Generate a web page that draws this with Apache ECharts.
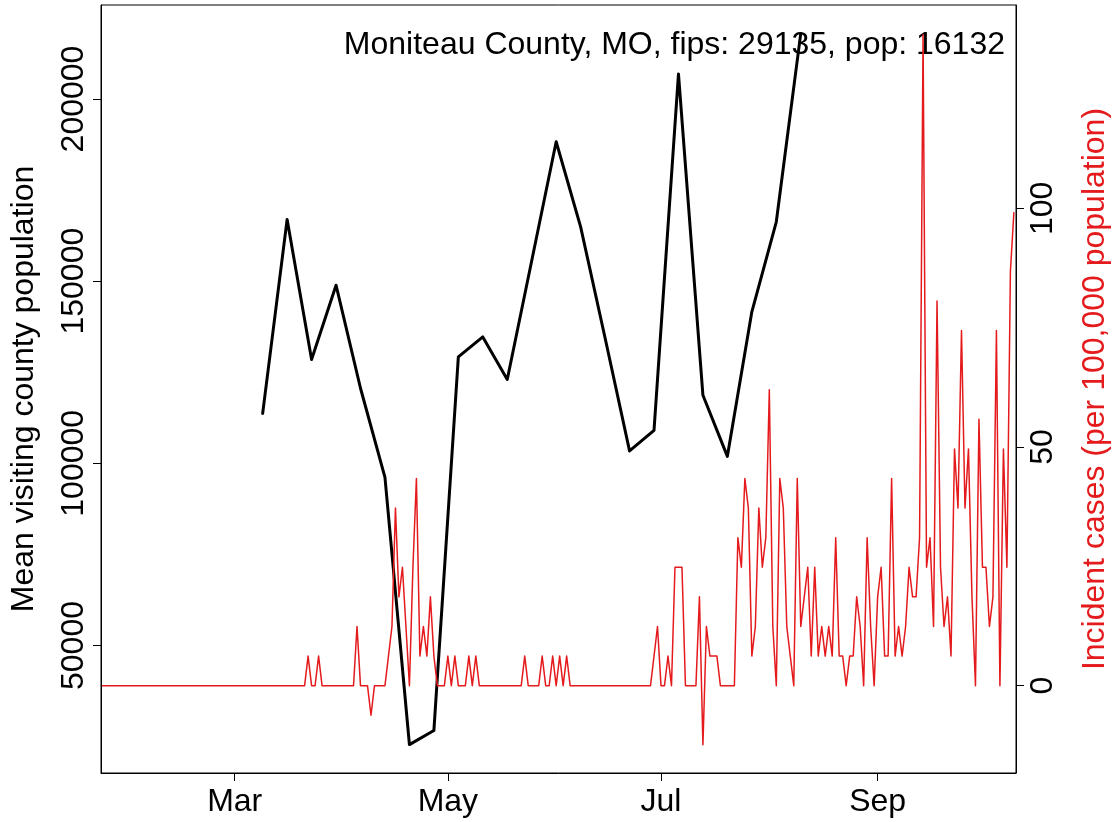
<!DOCTYPE html>
<html><head><meta charset="utf-8">
<script src="https://cdn.jsdelivr.net/npm/echarts@6/dist/echarts.min.js"></script>
<style>html,body{margin:0;padding:0;background:#fff}#c{width:1119px;height:822px}</style>
</head><body><div id="c"></div>
<script>
const chartTitle = 'Moniteau County, MO, fips: 29135, pop: 16132';
const leftAxisName = 'Mean visiting county population';
const rightAxisName = 'Incident cases (per 100,000 population)';

// weekly mean visiting county population (black)
const visitDates = ['2020-03-09','2020-03-16','2020-03-23','2020-03-30','2020-04-06','2020-04-13','2020-04-20','2020-04-27',
  '2020-05-04','2020-05-11','2020-05-18','2020-05-25','2020-06-01','2020-06-08','2020-06-15','2020-06-22','2020-06-29',
  '2020-07-06','2020-07-13','2020-07-20','2020-07-27','2020-08-03','2020-08-10'];
const visitValues = [113700,166950,128500,148900,120600,96150,22800,26650,
  129200,134700,123000,155600,188270,164900,134400,103400,109070,
  206870,118680,101920,141570,166300,218000];

// daily incident cases per 100,000 (red), consecutive days from caseStart
const caseStart = '2020-01-23';
const caseValues = [
  0,0,0,0,0,0,0,0,0,0, 0,0,0,0,0,0,0,0,0,0, 0,0,0,0,0,0,0,0,0,0,
  0,0,0,0,0,0,0,0,0,0, 0,0,0,0,0,0,0,0,0,0, 0,0,0,0,0,0,0,0,0,
  6.2,0,0,6.2,0,0,0,0,0,0,
  0,0,0,0,12.4,0,0,0,-6.2,0,
  0,0,0,6.2,12.4,37.2,18.6,24.8,12.4,0,
  24.8,43.4,6.2,12.4,6.2,18.6,6.2,0,0,0,
  6.2,0,6.2,0,0,0,6.2,0,6.2,0,
  0,0,0,0,0,0,0,0,0,0,
  0,0,6.2,0,0,0,0,6.2,0,0,
  6.2,0,6.2,0,6.2,0,0,0,0,0,
  0,0,0,0,0,0,0,0,0,0,
  0,0,0,0,0,0,0,0,0,6.2,
  12.4,0,0,6.2,0,24.8,24.8,24.8,0,0,
  0,0,18.6,-12.4,12.4,6.2,6.2,6.2,0,0,
  0,0,0,31.0,24.8,43.4,37.2,6.2,12.4,37.2,
  24.8,31.0,62.0,12.4,0,43.4,37.2,12.4,6.2,0,
  43.4,12.4,18.6,24.8,6.2,24.8,6.2,12.4,6.2,12.4,
  6.2,31.0,6.2,6.2,0,6.2,6.2,18.6,12.4,0,
  31.0,12.4,0,18.6,24.8,6.2,6.2,43.4,6.2,12.4,
  6.2,12.4,24.8,18.6,18.6,31.0,136.4,24.8,31.0,12.4,
  80.6,24.8,12.4,18.6,6.2,49.6,37.2,74.4,37.2,49.6,
  18.6,0,55.8,24.8,24.8,12.4,18.6,74.4,0,49.6,
  24.8,86.8,99.2
];

const xTickDates = ['2020-03-01','2020-05-01','2020-07-01','2020-09-01'];
const xTickLabels = ['Mar','May','Jul','Sep'];
const leftTicks = [50000,100000,150000,200000];
const rightTicks = [0,50,100];

function ts(s){ const p = s.split('-').map(Number); return new Date(p[0], p[1]-1, p[2]).getTime(); }
const DAY = 86400000;
const startTs = ts(caseStart);
const caseData = caseValues.map((v,i)=>{ const d = new Date(startTs); d.setDate(d.getDate()+i); return [d.getTime(), v]; });
const visitData = visitDates.map((d,i)=>[ts(d), visitValues[i]]);
const xTickTs = xTickDates.map(ts);
const xMin = ts('2020-01-23') - 0.27*DAY;
const xMax = ts('2020-10-10') + 0.6*DAY;

const font = '"Liberation Sans", Arial, Helvetica, sans-serif';
const chart = echarts.init(document.getElementById('c'), null, {renderer:'canvas'});
chart.setOption({
  animation:false,
  backgroundColor:'#fff',
  textStyle:{fontFamily:font},
  grid:{left:99, right:99, top:5, bottom:49, show:true, borderColor:'#000', borderWidth:1, backgroundColor:'transparent'},
  xAxis:{
    type:'value', min:xMin, max:xMax, scale:true,
    axisLine:{show:true, onZero:false, lineStyle:{color:'#000', width:1}},
    axisTick:{show:true, inside:false, length:8, customValues:xTickTs, lineStyle:{color:'#000', width:1}},
    axisLabel:{customValues:xTickTs, fontSize:32, color:'#000', margin:13, fontFamily:font,
      formatter:(v)=>{ const i = xTickTs.indexOf(v); return i>=0 ? xTickLabels[i] : ''; }},
    splitLine:{show:false}
  },
  yAxis:[
    {type:'value', position:'left', min:15000, max:225800,
      axisLine:{show:true, onZero:false, lineStyle:{color:'#000', width:1}},
      axisTick:{show:true, inside:false, length:8, customValues:leftTicks, lineStyle:{color:'#000'}},
      axisLabel:{customValues:leftTicks, rotate:90, fontSize:32, color:'#000', margin:11, fontFamily:font,
        formatter:(v)=>String(v)},
      splitLine:{show:false},
      name:leftAxisName, nameLocation:'middle', nameGap:61,
      nameTextStyle:{fontSize:32, color:'#000', fontFamily:font}
    },
    {type:'value', position:'right', min:-18.3, max:142.6,
      axisLine:{show:true, onZero:false, lineStyle:{color:'#000', width:1}},
      axisTick:{show:true, inside:false, length:8, customValues:rightTicks, lineStyle:{color:'#000'}},
      axisLabel:{customValues:rightTicks, rotate:90, fontSize:32, color:'#000', margin:11, fontFamily:font,
        formatter:(v)=>String(v)},
      splitLine:{show:false},
      name:rightAxisName, nameLocation:'middle', nameGap:63,
      nameTextStyle:{fontSize:32, color:'#E41A1C', fontFamily:font}
    }
  ],
  series:[
    {type:'line', yAxisIndex:0, data:visitData, showSymbol:false, symbol:'none',
      lineStyle:{color:'#000', width:3, cap:'round', join:'round'}},
    {type:'line', yAxisIndex:1, data:caseData, showSymbol:false, symbol:'none',
      lineStyle:{color:'#E41A1C', width:1.5, join:'round'}}
  ],
  graphic:[
    {type:'text', x:1005, y:45, style:{text:chartTitle, align:'right', verticalAlign:'middle',
      font:'32px "Liberation Sans", Arial, sans-serif', fill:'#000'}}
  ]
});
</script>
</body></html>
